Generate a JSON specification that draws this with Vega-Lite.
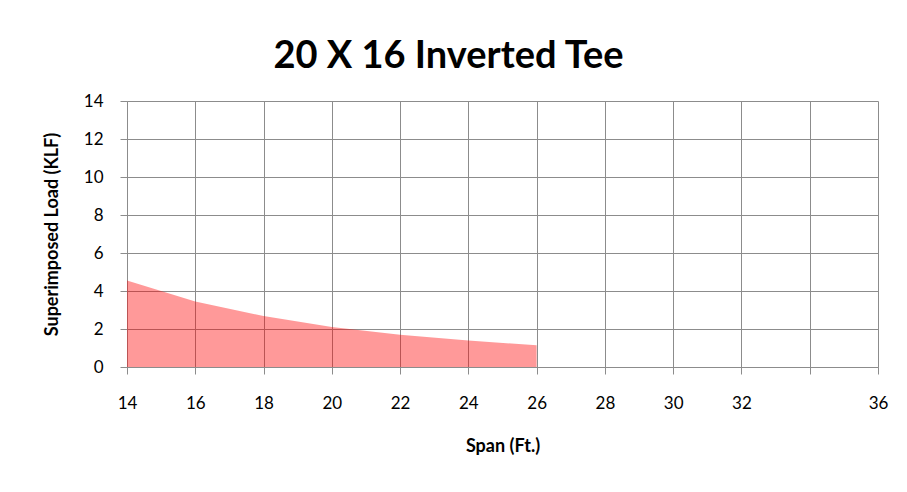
{
  "$schema": "https://vega.github.io/schema/vega-lite/v6.json",
  "width": 751,
  "height": 266,
  "autosize": {"type": "none"},
  "padding": {"left": 127, "top": 101, "right": 29, "bottom": 125},
  "background": "white",
  "title": {
    "text": "20 X 16 Inverted Tee",
    "font": "Lato",
    "fontSize": 38,
    "fontWeight": "bold",
    "color": "black",
    "anchor": "middle",
    "dx": -54,
    "offset": 16
  },
  "data": {
    "values": [
      {"span": 14, "load": 4.55},
      {"span": 16, "load": 3.45},
      {"span": 18, "load": 2.68},
      {"span": 20, "load": 2.11},
      {"span": 22, "load": 1.7},
      {"span": 24, "load": 1.39},
      {"span": 26, "load": 1.14}
    ]
  },
  "mark": {"type": "area", "color": "#ff0000", "opacity": 0.4},
  "encoding": {
    "x": {
      "field": "span",
      "type": "quantitative",
      "scale": {"domain": [14, 36], "nice": false, "zero": false},
      "axis": {
        "values": [14, 16, 18, 20, 22, 24, 26, 28, 30, 32, 34, 36],
        "labelExpr": "datum.value == 34 ? '' : datum.label",
        "labelFlush": false,
        "title": "Span (Ft.)",
        "titleFont": "Lato",
        "titleFontSize": 18,
        "titleFontWeight": "bold",
        "titleColor": "black",
        "titlePadding": 26,
        "labelFont": "Lato",
        "labelFontSize": 17,
        "labelColor": "black",
        "labelPadding": 21,
        "gridColor": "#8c8c8c",
        "gridOpacity": 1,
        "domainColor": "#8c8c8c",
        "tickColor": "#8c8c8c",
        "tickSize": 7
      }
    },
    "y": {
      "field": "load",
      "type": "quantitative",
      "scale": {"domain": [0, 14], "nice": false},
      "axis": {
        "values": [0, 2, 4, 6, 8, 10, 12, 14],
        "labelFlush": false,
        "title": "Superimposed Load (KLF)",
        "titleFont": "Lato",
        "titleFontSize": 18,
        "titleFontWeight": "bold",
        "titleColor": "black",
        "titlePadding": 22,
        "labelFont": "Lato",
        "labelFontSize": 17,
        "labelColor": "black",
        "labelPadding": 17,
        "gridColor": "#8c8c8c",
        "gridOpacity": 1,
        "domainColor": "#8c8c8c",
        "tickColor": "#8c8c8c",
        "tickSize": 7
      }
    }
  },
  "config": {"view": {"stroke": null}}
}
